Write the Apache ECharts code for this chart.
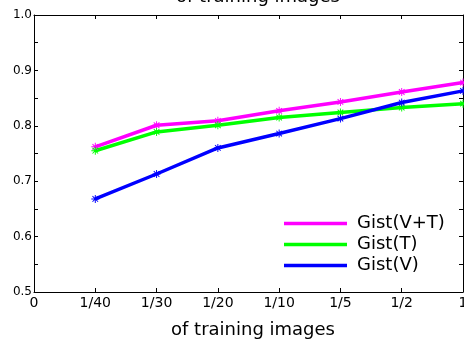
<!DOCTYPE html>
<html>
<head>
<meta charset="utf-8">
<script src="https://cdn.jsdelivr.net/npm/echarts@6/dist/echarts.min.js"></script>
<style>html,body{margin:0;padding:0;background:#fff;}#c{width:464px;height:341px;}</style>
</head>
<body>
<div id="c"></div>
<script>
var categories = ['0', '1/40', '1/30', '1/20', '1/10', '1/5', '1/2', '1'];
var gistVT = ['-', 0.762, 0.801, 0.809, 0.827, 0.843, 0.861, 0.878];
var gistT  = ['-', 0.755, 0.789, 0.801, 0.815, 0.824, 0.833, 0.840];
var gistV  = ['-', 0.668, 0.713, 0.760, 0.786, 0.813, 0.842, 0.863];
var seriesNames = ['Gist(V+T)', 'Gist(T)', 'Gist(V)'];
var titleText = 'of training images';
var xName = 'of training images';

var FONT = 'DejaVu Sans';
var star = 'path://M4.4,0L5.6,0L5.6,10L4.4,10Z M0,4.4L10,4.4L10,5.6L0,5.6Z M1.92,1.08L8.92,8.08L8.08,8.92L1.08,1.92Z M8.08,1.08L8.92,1.92L1.92,8.92L1.08,8.08Z';
var axLine = {show: true, lineStyle: {color: '#000', width: 1}};
var tick = {show: true, inside: true, length: 4, lineStyle: {color: '#000', width: 1}};

function mkSeries(name, data, color) {
  return {
    name: name, type: 'line', data: data, xAxisIndex: 0, yAxisIndex: 0,
    symbol: star, symbolSize: 8, showSymbol: true,
    lineStyle: {color: color, width: 3.5},
    itemStyle: {color: color},
    animation: false
  };
}

var chart = echarts.init(document.getElementById('c'));
chart.setOption({
  backgroundColor: '#fff',
  animation: false,
  title: {
    text: titleText, left: 253, textAlign: 'center', top: -17,
    textStyle: {fontFamily: FONT, fontSize: 18, fontWeight: 'normal', color: '#000'}
  },
  grid: {left: 34, top: 15, right: 1, bottom: 49, containLabel: false, outerBoundsMode: 'none'},
  legend: {
    data: seriesNames,
    orient: 'vertical', left: 279, top: 208,
    icon: 'rect', itemWidth: 63, itemHeight: 3.5, itemGap: 0,
    textStyle: {fontFamily: FONT, fontSize: 18, color: '#000', lineHeight: 21, padding: [0, 0, 0, 5]}
  },
  xAxis: [{
    type: 'category', data: categories, boundaryGap: false, position: 'bottom',
    axisLine: axLine, axisTick: tick,
    axisLabel: {fontFamily: FONT, fontSize: 14, color: '#000', margin: 4, interval: 0},
    splitLine: {show: false},
    name: xName, nameLocation: 'middle', nameGap: 29,
    nameTextStyle: {fontFamily: FONT, fontSize: 18, color: '#000', padding: [0, 0, 0, 9]}
  }, {
    type: 'category', data: categories, boundaryGap: false, position: 'top',
    axisLine: axLine, axisTick: tick, axisLabel: {show: false}, splitLine: {show: false}
  }],
  yAxis: [{
    type: 'value', min: 0.5, max: 1.0, interval: 0.1, position: 'left',
    axisLine: axLine, axisTick: tick,
    minorTick: {show: true, splitNumber: 2, length: 4, lineStyle: {color: '#000', width: 1}},
    axisLabel: {fontFamily: FONT, fontSize: 12, color: '#000', margin: 2,
      formatter: function (v) { return v.toFixed(1); }},
    splitLine: {show: false}
  }, {
    type: 'value', min: 0.5, max: 1.0, interval: 0.1, position: 'right',
    axisLine: axLine, axisTick: tick,
    minorTick: {show: true, splitNumber: 2, length: 4, lineStyle: {color: '#000', width: 1}},
    axisLabel: {show: false}, splitLine: {show: false}
  }],
  series: [
    mkSeries(seriesNames[0], gistVT, '#ff00ff'),
    mkSeries(seriesNames[1], gistT, '#00ff00'),
    mkSeries(seriesNames[2], gistV, '#0000ff')
  ]
});
</script>
</body>
</html>
